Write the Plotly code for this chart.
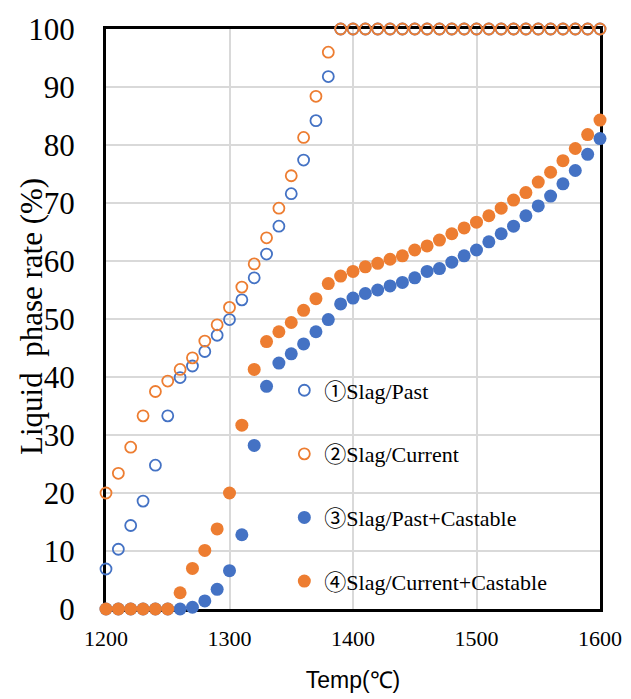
import plotly.graph_objects as go

temps = [1200, 1210, 1220, 1230, 1240, 1250, 1260, 1270, 1280, 1290,
         1300, 1310, 1320, 1330, 1340, 1350, 1360, 1370, 1380, 1390,
         1400, 1410, 1420, 1430, 1440, 1450, 1460, 1470, 1480, 1490,
         1500, 1510, 1520, 1530, 1540, 1550, 1560, 1570, 1580, 1590, 1600]

slag_past = [6.9, 10.3, 14.4, 18.6, 24.8, 33.3, 39.9, 41.9, 44.4, 47.2,
             49.9, 53.3, 57.1, 61.2, 66.0, 71.6, 77.4, 84.2, 91.8, 100,
             100, 100, 100, 100, 100, 100, 100, 100, 100, 100,
             100, 100, 100, 100, 100, 100, 100, 100, 100, 100, 100]

slag_current = [20.0, 23.4, 27.9, 33.3, 37.5, 39.3, 41.3, 43.3, 46.2, 49.0,
                52.0, 55.5, 59.5, 64.0, 69.1, 74.7, 81.3, 88.4, 96.0, 100,
                100, 100, 100, 100, 100, 100, 100, 100, 100, 100,
                100, 100, 100, 100, 100, 100, 100, 100, 100, 100, 100]

slag_past_castable = [0, 0, 0, 0, 0, 0, 0, 0.3, 1.4, 3.4,
                      6.6, 12.8, 28.2, 38.4, 42.4, 44.0, 45.7, 47.8, 49.9, 52.6,
                      53.6, 54.4, 55.0, 55.7, 56.3, 57.1, 58.2, 58.7, 59.8, 60.9,
                      61.9, 63.3, 64.7, 66.0, 67.8, 69.5, 71.2, 73.3, 75.6, 78.4, 81.1]

slag_current_castable = [0, 0, 0, 0, 0, 0, 2.8, 7.0, 10.1, 13.8,
                         20.0, 31.7, 41.3, 46.1, 47.8, 49.4, 51.5, 53.5, 56.1, 57.4,
                         58.2, 59.0, 59.6, 60.3, 60.9, 61.9, 62.6, 63.6, 64.7, 65.7,
                         66.7, 67.8, 69.1, 70.5, 71.8, 73.6, 75.3, 77.3, 79.4, 81.8, 84.3]

series_marks = ["①", "②", "③", "④"]
series_names = ["Slag/Past", "Slag/Current", "Slag/Past+Castable", "Slag/Current+Castable"]
tick_x = [1200, 1300, 1400, 1500, 1600]
tick_y = [0, 10, 20, 30, 40, 50, 60, 70, 80, 90, 100]
x_title = "Temp(℃)"
y_title = "Liquid  phase rate (%)"

BLUE = "#4472C4"
ORANGE = "#ED7D31"

fig = go.Figure()
series = [
    (slag_past, BLUE, True),
    (slag_current, ORANGE, True),
    (slag_past_castable, BLUE, False),
    (slag_current_castable, ORANGE, False),
]
for i, (vals, col, hollow) in enumerate(series):
    if hollow:
        marker = dict(size=11, color="rgba(0,0,0,0)", line=dict(color=col, width=1.8))
    else:
        marker = dict(size=13, color=col, line=dict(width=0))
    label = ('<span style="font-family:\'Noto Sans CJK JP\'">' + series_marks[i]
             + '</span>' + series_names[i])
    fig.add_trace(go.Scatter(
        x=temps, y=vals, mode="markers", name=label,
        marker=marker, cliponaxis=False, legendgroup=f"g{i}",
    ))

serif = "Liberation Serif"

fig.update_layout(
    width=631, height=699,
    margin=dict(l=106, r=31, t=29, b=90),
    paper_bgcolor="white", plot_bgcolor="white",
    font=dict(family=serif, color="black"),
    showlegend=True,
    legend=dict(
        x=0.361, y=0.413, xanchor="left", yanchor="top",
        bgcolor="rgba(0,0,0,0)",
        font=dict(family=serif, size=22, color="black"),
        tracegroupgap=32,
        itemwidth=30,
    ),
    xaxis=dict(
        range=[1200, 1600], tickvals=tick_x,
        showgrid=True, gridcolor="#D9D9D9", gridwidth=1.5,
        showline=True, linecolor="black", linewidth=3, mirror=True,
        zeroline=False, ticks="outside", ticklen=8, tickcolor="rgba(0,0,0,0)",
        layer="below traces", automargin=False,
        tickfont=dict(family=serif, size=22, color="black"),
        title=dict(text=x_title, font=dict(family="Liberation Sans",
                                           size=23, color="black"), standoff=22),
    ),
    yaxis=dict(
        range=[0, 100], tickvals=tick_y,
        showgrid=True, gridcolor="#D9D9D9", gridwidth=1.5,
        showline=True, linecolor="black", linewidth=3, mirror=True,
        zeroline=False, ticks="outside", ticklen=22, tickcolor="rgba(0,0,0,0)",
        layer="below traces", automargin=False,
        tickfont=dict(family=serif, size=31, color="black"),
    ),
    annotations=[dict(
        text=y_title, textangle=-90, showarrow=False,
        xref="paper", yref="paper", x=-0.152, y=0.505,
        xanchor="center", yanchor="middle",
        font=dict(family=serif, size=31, color="black"),
    )],
)

fig.write_html("out.html")
